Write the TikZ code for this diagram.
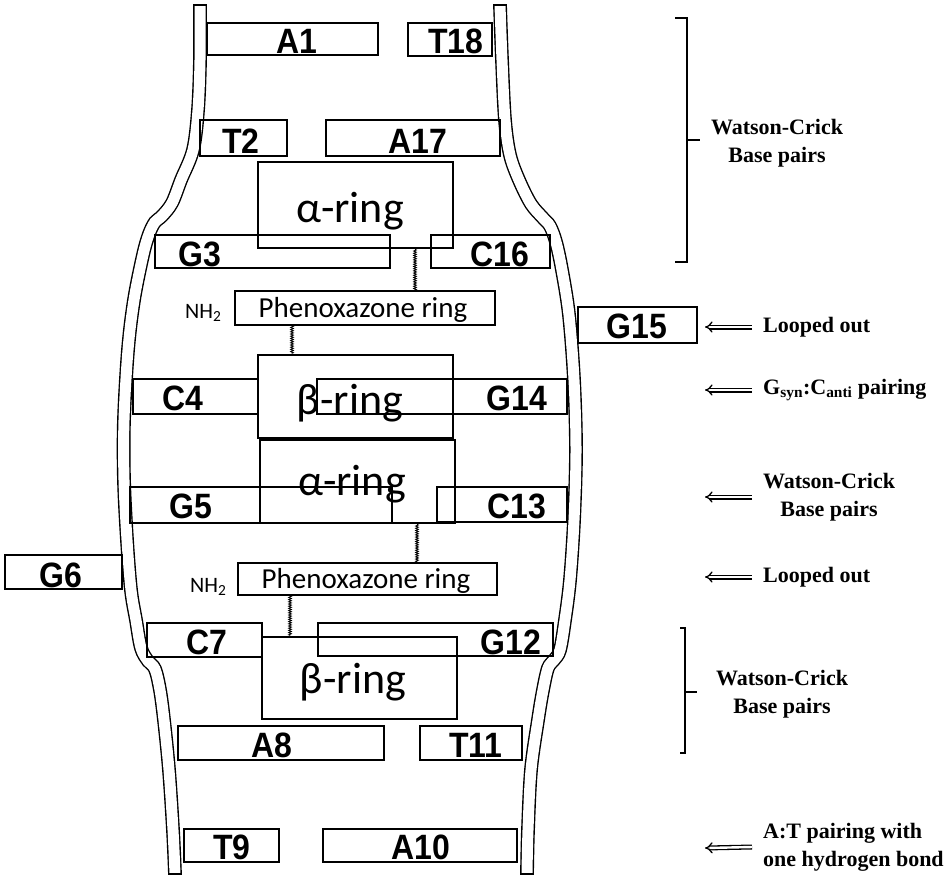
\documentclass[tikz,border=0pt]{standalone}
\usepackage{graphicx}
\usepackage{fontspec}
\setmainfont{Liberation Serif}
\newfontfamily\basefont{Liberation Sans}
\newfontfamily\calfont{Carlito}
\newcommand{\tallbold}[1]{\scalebox{1}[1.1]{#1}}
\usetikzlibrary{fit,calc,decorations.pathmorphing,arrows.meta}
\begin{document}
\begin{tikzpicture}[x=1pt,y=-1pt,
 basebox/.style={draw, line width=1.8pt, inner sep=0pt},
 ringbox/.style={draw, line width=2.8pt, inner sep=0pt},
 phenobox/.style={draw, line width=1.5pt, inner sep=0pt},
 baselbl/.style={font=\basefont\bfseries\fontsize{32}{32}\selectfont, anchor=base, inner sep=0pt},
 ringlbl/.style={font=\calfont\fontsize{44}{44}\selectfont, anchor=base, inner sep=0pt},
 phenolbl/.style={font=\calfont\fontsize{29}{29}\selectfont, anchor=base, inner sep=0pt},
 nhlbl/.style={font=\calfont\fontsize{22}{22}\selectfont, anchor=base west, inner sep=0pt},
 note/.style={font=\bfseries\fontsize{22}{28}\selectfont, inner sep=0pt, align=center},
 strand/.style={line width=1.4pt, double=white, double distance=11pt},
 endcap/.style={line width=1.4pt},
 hbond/.style={line width=0.9pt, decorate, decoration={zigzag, amplitude=1.3pt, segment length=2.2pt}},
 dblarrow/.style={double, double distance=2.4pt, line width=1.3pt, -{Implies[scale=1.3]}},
 bracket/.style={line width=2.8pt},
]
\useasboundingbox (0,0) rectangle (949,879);

% strands
\draw[strand] plot[smooth, tension=0.55] coordinates {(200,5) (200,60) (198,110) (193,150) (181,180) (172,203) (162,216) (155,222) (149,234) (143,255) (134,300) (128,350) (124,420) (124,480) (127,540) (131,590) (136,620) (141,648) (148,661) (155,669) (160,690) (164,720) (169,770) (173,830) (175,874)};
\draw[endcap] (193.1,5) -- (206.9,5);
\draw[endcap] (168.1,874) -- (181.9,874);
\draw[strand] plot[smooth, tension=0.55] coordinates {(500,5) (502,60) (505,120) (510,155) (519,180) (531,204) (543,218) (550,226) (556,242) (562,270) (569,315) (574,380) (576,450) (574,520) (570,580) (565,620) (560,650) (554,660) (548,668) (543,690) (538,720) (531,770) (528,830) (527,874)};
\draw[endcap] (493.1,5) -- (506.9,5);
\draw[endcap] (520.1,874) -- (533.9,874);

% base boxes
\node[basebox, fit={(207,23) (378,55)}] (A1) {};
\node[basebox, fit={(408,23) (492,56)}] (T18) {};
\node[basebox, fit={(200,120) (287,156)}] (T2) {};
\node[basebox, fit={(326,120) (500,156)}] (A17) {};
\node[basebox, fit={(155,235) (390,268)}] (G3) {};
\node[basebox, fit={(431,235) (550,268)}] (C16) {};
\node[basebox, fit={(133,379) (258,414)}] (C4) {};
\node[basebox, fit={(317,379) (567,414)}] (G14) {};
\node[basebox, fit={(130,487) (392,523)}] (G5) {};
\node[basebox, fit={(437,487) (567,522)}] (C13) {};
\node[basebox, fit={(147,623) (262,657)}] (C7) {};
\node[basebox, fit={(318,623) (553,656)}] (G12) {};
\node[basebox, fit={(178,726) (384,760)}] (A8) {};
\node[basebox, fit={(420,726) (522,760)}] (T11) {};
\node[basebox, fit={(184,829) (279,862)}] (T9) {};
\node[basebox, fit={(323,829) (517,862)}] (A10) {};
\node[basebox, fit={(5,555) (122,589)}] (G6) {};
\node[basebox, fit={(578,307) (697,343)}] (G15) {};

\node[baselbl] (lA1) at (297,53) {\tallbold{A1}};
\node[baselbl] (lT18) at (456,53) {\tallbold{T18}};
\node[baselbl] (lT2) at (241,153) {\tallbold{T2}};
\node[baselbl] (lA17) at (418,153) {\tallbold{A17}};
\node[baselbl] (lG3) at (200,266) {\tallbold{G3}};
\node[baselbl] (lC16) at (500,266) {\tallbold{C16}};
\node[baselbl] (lC4) at (183,410) {\tallbold{C4}};
\node[baselbl] (lG14) at (517,410) {\tallbold{G14}};
\node[baselbl] (lG5) at (191,518) {\tallbold{G5}};
\node[baselbl] (lC13) at (517,518) {\tallbold{C13}};
\node[baselbl] (lC7) at (207,654) {\tallbold{C7}};
\node[baselbl] (lG12) at (511,654) {\tallbold{G12}};
\node[baselbl] (lA8) at (272,757) {\tallbold{A8}};
\node[baselbl] (lT11) at (476,757) {\tallbold{T11}};
\node[baselbl] (lT9) at (232,859) {\tallbold{T9}};
\node[baselbl] (lA10) at (421,859) {\tallbold{A10}};
\node[baselbl] (lG6) at (61,587) {\tallbold{G6}};
\node[baselbl] (lG15) at (637,338) {\tallbold{G15}};

% rings
\node[ringbox, fit={(258,162) (453,248)}] (ar1) {};
\node[ringbox, fit={(258,355) (453,438)}] (br1) {};
\node[ringbox, fit={(260,440) (455,523)}] (ar2) {};
\node[ringbox, fit={(262,637) (457,719)}] (br2) {};
\node[ringlbl] (lar1) at (350,222) {α-ring};
\node[ringlbl] (lbr1) at (350,414) {β-ring};
\node[ringlbl] (lar2) at (352,495) {α-ring};
\node[ringlbl] (lbr2) at (353,693) {β-ring};

% phenoxazone
\node[phenobox, fit={(235,291) (495,325)}] (ph1) {};
\node[phenobox, fit={(238,563) (497,595)}] (ph2) {};
\node[phenolbl] (lph1) at (363,317) {Phenoxazone ring};
\node[phenolbl] (lph2) at (366,588) {Phenoxazone ring};
\node[nhlbl] (nh1) at (185,318) {NH\textsubscript{2}};
\node[nhlbl] (nh2) at (190,592) {NH\textsubscript{2}};

% linkers
\coordinate (k1) at ($(ar1.south)+(59.5,0)$);
\draw[hbond] (k1) -- (k1 |- ph1.north);
\coordinate (k2) at ($(ph1.south)+(-73,0)$);
\draw[hbond] (k2) -- (k2 |- br1.north);
\coordinate (k3) at ($(ar2.south)+(59.5,0)$);
\draw[hbond] (k3) -- (k3 |- ph2.north);
\coordinate (k4) at ($(ph2.south)+(-77.5,0)$);
\draw[hbond] (k4) -- (k4 |- br2.north);

% brackets
\draw[bracket] (675,18) -- (687,18) -- (687,262) -- (675,262);
\draw[bracket] (687,140) -- (700,140);
\draw[bracket] (680,628) -- (685,628) -- (685,753) -- (680,753);
\draw[bracket] (685,692) -- (697,692);

% notes
\node[note] (n1) at (777,143) {Watson-Crick\\Base pairs};
\node[note, anchor=west] (n2) at (763,327) {Looped out};
\node[note, anchor=west] (n3) at (763,390) {G\textsubscript{syn}:C\textsubscript{anti} pairing};
\node[note] (n4) at (829,497) {Watson-Crick\\Base pairs};
\node[note, anchor=west] (n5) at (763,577) {Looped out};
\node[note] (n6) at (782,694) {Watson-Crick\\Base pairs};
\node[note, anchor=west, align=left] (n7) at (763,847) {A:T pairing with\\one hydrogen bond};

\coordinate (e2) at (705,327); \coordinate (e3) at (705,390);
\coordinate (e4) at (705,497); \coordinate (e5) at (705,577);
\coordinate (e7) at (705,848);
\draw[dblarrow] ([xshift=-11pt]n2.west) -- (e2);
\draw[dblarrow] ([xshift=-11pt]n3.west) -- (e3);
\draw[dblarrow] (752,497) -- (e4);
\draw[dblarrow] ([xshift=-11pt]n5.west) -- (e5);
\draw[dblarrow] ([xshift=-11pt]n7.west) -- (e7);
\end{tikzpicture}
\end{document}
